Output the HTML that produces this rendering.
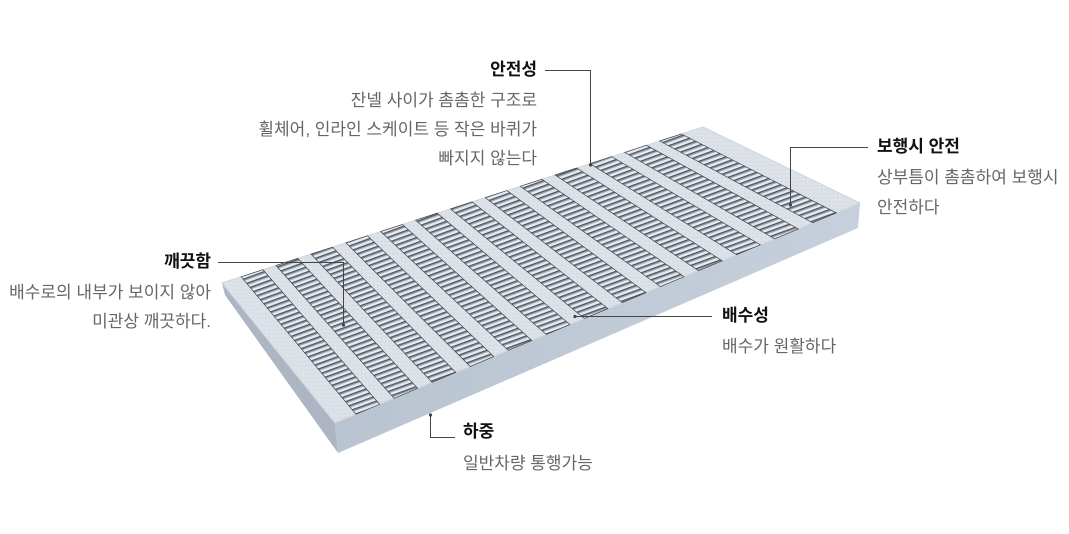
<!DOCTYPE html>
<html><head><meta charset="utf-8"><style>
body{margin:0;background:#fff;}
.wrap{position:relative;width:1069px;height:534px;overflow:hidden;font-family:"Liberation Sans","Noto Sans CJK KR",sans-serif;}
.t{position:absolute;font-size:17px;color:#666;white-space:nowrap;line-height:20px;}
.b{position:absolute;font-size:17px;color:#111;font-weight:bold;white-space:nowrap;line-height:20px;}
.r{text-align:right;}
svg{position:absolute;left:0;top:0;}
</style></head><body><div class="wrap">
<svg width="1069" height="534" viewBox="0 0 1069 534">
<defs>
<pattern id="g" patternUnits="userSpaceOnUse" width="7" height="5" patternTransform="rotate(-20)">
<rect width="7" height="5" fill="#e6ebf1"/>
<rect y="0" width="7" height="1.4" fill="#4f5560"/>
<rect y="1.4" width="7" height="1.2" fill="#9aa4b0"/>
</pattern>
<pattern id="p" patternUnits="userSpaceOnUse" width="4" height="4">
<rect width="4" height="4" fill="#dde2e8"/>
<rect x="1" y="1" width="1" height="1" fill="#c8cfd8"/>
</pattern>
<linearGradient id="fr" x1="0" y1="0" x2="1" y2="0">
<stop offset="0" stop-color="#b9c4d1"/><stop offset="1" stop-color="#c6d0dc"/>
</linearGradient>
</defs>
<polygon points="222,283 335,423 338,453 225,295" fill="#acb5c1"/>
<polygon points="335,423 860,203 858,228 338,453" fill="url(#fr)"/>
<polygon points="222,283 703,127 860,203 335,423" fill="url(#p)" stroke="#cfd5dd" stroke-width="1"/>
<g fill="url(#g)" stroke="#444" stroke-width="0.7">
<polygon points="241.2,276.8 262.9,269.7 379.6,404.3 356,414.2"/>
<polygon points="276.1,265.5 297.8,258.4 417.7,388.4 394.1,398.3"/>
<polygon points="311,254.1 332.6,247.1 455.8,372.4 432.1,382.3"/>
<polygon points="345.9,242.8 367.5,235.8 493.8,356.5 470.2,366.4"/>
<polygon points="380.7,231.5 402.4,224.5 531.9,340.5 508.3,350.4"/>
<polygon points="415.6,220.2 437.2,213.2 569.9,324.5 546.3,334.5"/>
<polygon points="450.5,208.9 472.1,201.9 608,308.6 584.4,318.5"/>
<polygon points="485.3,197.6 507,190.6 646.1,292.7 622.4,302.6"/>
<polygon points="520.2,186.3 541.9,179.3 684.1,276.7 660.5,286.6"/>
<polygon points="555.1,175 576.7,168 722.2,260.8 698.6,270.7"/>
<polygon points="590,163.7 611.6,156.6 760.3,244.8 736.6,254.7"/>
<polygon points="624.8,152.4 646.5,145.3 798.3,228.9 774.7,238.8"/>
<polygon points="659.7,141 681.4,134 836.4,212.9 812.8,222.8"/>
</g>
<g stroke="#444" stroke-width="1" fill="none">
<polyline points="545,70.5 590.5,70.5 590.5,165"/>
<polyline points="868,147.5 790.5,147.5 790.5,205"/>
<polyline points="218,262.5 343.5,262.5 343.5,325"/>
<polyline points="575,316.5 712,316.5"/>
<polyline points="430.5,415 430.5,437.5 455,437.5"/>
</g>
<g fill="#444">
<circle cx="590.5" cy="165" r="1.6"/><circle cx="790.5" cy="205" r="1.6"/>
<circle cx="343.5" cy="325" r="1.6"/><circle cx="575" cy="316.5" r="1.6"/><circle cx="430.5" cy="415" r="1.6"/>
</g>
</svg>
<div class="b r" style="right:532px;top:60px;">안전성</div>
<div class="t r" style="right:532px;top:91px;">잔넬 사이가 촘촘한 구조로</div>
<div class="t r" style="right:532px;top:120px;">휠체어, 인라인 스케이트 등 작은 바퀴가</div>
<div class="t r" style="right:532px;top:149px;">빠지지 않는다</div>
<div class="b" style="left:877px;top:137px;">보행시 안전</div>
<div class="t" style="left:877px;top:168px;">상부틈이 촘촘하여 보행시</div>
<div class="t" style="left:877px;top:198px;">안전하다</div>
<div class="b r" style="right:858px;top:252px;">깨끗함</div>
<div class="t r" style="right:858px;top:283px;">배수로의 내부가 보이지 않아</div>
<div class="t r" style="right:858px;top:312px;">미관상 깨끗하다.</div>
<div class="b" style="left:722px;top:306px;">배수성</div>
<div class="t" style="left:722px;top:337px;">배수가 원활하다</div>
<div class="b" style="left:463px;top:422px;">하중</div>
<div class="t" style="left:463px;top:454px;">일반차량 통행가능</div>
</div></body></html>
